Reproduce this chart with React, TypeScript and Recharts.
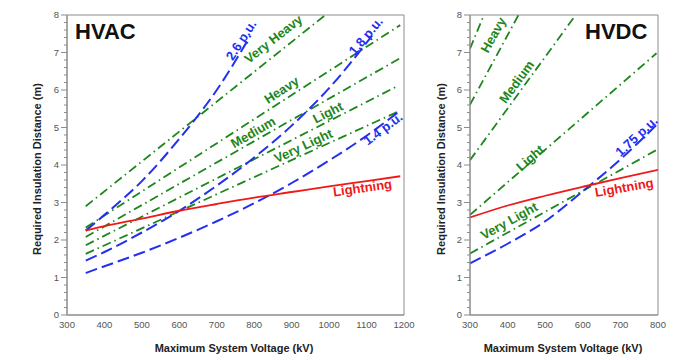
import React from 'react';
import { ComposedChart, Line, Scatter, XAxis, YAxis, ReferenceArea } from 'recharts';

const FONT = '"Liberation Sans", Arial, Helvetica, sans-serif';
const GREEN = '#1d861d';
const BLUE = '#2230f0';
const RED = '#f01818';
const AXIS = '#8c8c8c';
const TICK_TEXT = '#555555';

// ---------- HVAC (kV, metres) ----------
const AC_X_TICKS = [300, 400, 500, 600, 700, 800, 900, 1000, 1100, 1200];
const AC_LIGHTNING = [[350, 2.25], [400, 2.37], [500, 2.57], [600, 2.78], [700, 2.96], [800, 3.13], [900, 3.28], [1000, 3.43], [1100, 3.57], [1190, 3.7]];
const AC_SW_14 = [[350, 1.12], [400, 1.3], [500, 1.66], [600, 2.06], [700, 2.5], [800, 2.98], [900, 3.52], [1000, 4.12], [1100, 4.78], [1190, 5.45]];
const AC_SW_18 = [[350, 1.45], [400, 1.68], [500, 2.2], [600, 2.78], [700, 3.45], [800, 4.2], [900, 5.05], [1000, 6.05], [1115, 7.45]];
const AC_SW_26 = [[350, 2.25], [400, 2.67], [500, 3.57], [600, 4.7], [700, 6.0], [790, 7.45]];
const AC_VERY_HEAVY = [[350, 2.9], [990, 8.0]];
const AC_HEAVY = [[350, 2.33], [1190, 7.73]];
const AC_MEDIUM = [[350, 2.08], [1190, 6.85]];
const AC_LIGHT = [[350, 1.86], [1178, 6.08]];
const AC_VERY_LIGHT = [[350, 1.63], [1190, 5.45]];

const AC_LABELS = [
  { text: '2.6 p.u.', kv: 765, m: 7.33, angle: -57, color: BLUE },
  { text: 'Very Heavy', kv: 851, m: 7.36, angle: -38, color: GREEN },
  { text: 'Heavy', kv: 873, m: 6.0, angle: -33, color: GREEN },
  { text: 'Medium', kv: 797, m: 4.87, angle: -30, color: GREEN },
  { text: 'Light', kv: 997, m: 5.4, angle: -27, color: GREEN },
  { text: 'Very Light', kv: 931, m: 4.51, angle: -25, color: GREEN },
  { text: '1.4 p.u.', kv: 1144, m: 4.97, angle: -37, color: BLUE },
  { text: '1.8 p.u.', kv: 1098, m: 7.44, angle: -50, color: BLUE },
  { text: 'Lightning', kv: 1089, m: 3.39, angle: -8, color: RED },
];

// ---------- HVDC (kV, metres) ----------
const DC_X_TICKS = [300, 400, 500, 600, 700, 800];
const DC_LIGHTNING = [[300, 2.6], [400, 2.92], [500, 3.18], [600, 3.42], [700, 3.65], [800, 3.87]];
const DC_SW_175 = [[300, 1.38], [400, 1.9], [500, 2.5], [600, 3.3], [700, 4.15], [796, 5.07]];
const DC_HEAVY_A = [[300, 7.1], [337, 8.0]];
const DC_HEAVY_B = [[300, 5.61], [429, 8.0]];
const DC_MEDIUM = [[300, 4.13], [581, 8.0]];
const DC_LIGHT = [[300, 2.67], [796, 6.98]];
const DC_VERY_LIGHT = [[300, 1.64], [796, 4.4]];

const DC_LABELS = [
  { text: 'Heavy', kv: 362, m: 7.47, angle: -61, color: GREEN },
  { text: 'Medium', kv: 424, m: 6.22, angle: -54, color: GREEN },
  { text: 'Light', kv: 460, m: 4.19, angle: -41, color: GREEN },
  { text: 'Very Light', kv: 404, m: 2.51, angle: -29, color: GREEN },
  { text: '1.75 p.u.', kv: 743, m: 4.77, angle: -43, color: BLUE },
  { text: 'Lightning', kv: 710, m: 3.4, angle: -10, color: RED },
];

const Y_TICKS = Array.from({ length: 41 }, (_, i) => Math.round(i * 2) / 10);

const pts = (arr: number[][]) => arr.map(([kv, m]) => ({ kv, m }));

const DASH_BLUE = '12 5';
const DASH_GREEN = '9 4 1.5 4';

type Series = { data: number[][]; color: string; dash?: string; width: number };

const AC_SERIES: Series[] = [
  { data: AC_VERY_HEAVY, color: GREEN, dash: DASH_GREEN, width: 1.8 },
  { data: AC_HEAVY, color: GREEN, dash: DASH_GREEN, width: 1.8 },
  { data: AC_MEDIUM, color: GREEN, dash: DASH_GREEN, width: 1.8 },
  { data: AC_LIGHT, color: GREEN, dash: DASH_GREEN, width: 1.8 },
  { data: AC_VERY_LIGHT, color: GREEN, dash: DASH_GREEN, width: 1.8 },
  { data: AC_SW_14, color: BLUE, dash: DASH_BLUE, width: 2 },
  { data: AC_SW_18, color: BLUE, dash: DASH_BLUE, width: 2 },
  { data: AC_SW_26, color: BLUE, dash: DASH_BLUE, width: 2 },
  { data: AC_LIGHTNING, color: RED, width: 1.8 },
];

const DC_SERIES: Series[] = [
  { data: DC_HEAVY_A, color: GREEN, dash: DASH_GREEN, width: 1.8 },
  { data: DC_HEAVY_B, color: GREEN, dash: DASH_GREEN, width: 1.8 },
  { data: DC_MEDIUM, color: GREEN, dash: DASH_GREEN, width: 1.8 },
  { data: DC_LIGHT, color: GREEN, dash: DASH_GREEN, width: 1.8 },
  { data: DC_VERY_LIGHT, color: GREEN, dash: DASH_GREEN, width: 1.8 },
  { data: DC_SW_175, color: BLUE, dash: DASH_BLUE, width: 2 },
  { data: DC_LIGHTNING, color: RED, width: 1.8 },
];

const YTick = (props: any) => {
  const { x, y, payload } = props;
  const v = payload.value;
  const major = Math.abs(v - Math.round(v)) < 1e-6;
  const ax = x + 8;
  return (
    <g>
      <line x1={ax - (major ? 6 : 3)} x2={ax} y1={y} y2={y} stroke={AXIS} strokeWidth={1} />
      {major && (
        <text x={x} y={y} dy="0.35em" textAnchor="end" fontSize={9.5} fill={TICK_TEXT} fontFamily={FONT}>
          {v}
        </text>
      )}
    </g>
  );
};

const LabelShape = (props: any) => {
  const { cx, cy, payload } = props;
  if (cx == null || cy == null) return null;
  return (
    <text
      x={cx}
      y={cy}
      transform={`rotate(${payload.angle} ${cx} ${cy})`}
      textAnchor="middle"
      dominantBaseline="central"
      fontSize={13}
      fontWeight="bold"
      fontFamily={FONT}
      fill={payload.color}
    >
      {payload.text}
    </text>
  );
};

function Panel(props: {
  width: number;
  margin: { top: number; right: number; bottom: number; left: number };
  xDomain: [number, number];
  xTicks: number[];
  series: Series[];
  labels: any[];
}) {
  const { width, margin, xDomain, xTicks, series, labels } = props;
  return (
    <ComposedChart width={width} height={360} margin={margin}>
      <XAxis
        type="number"
        dataKey="kv"
        domain={xDomain}
        ticks={xTicks}
        interval={0}
        allowDataOverflow
        tickLine={false}
        tickSize={4}
        tickMargin={2}
        height={30}
        stroke={AXIS}
        tick={{ fill: TICK_TEXT, fontSize: 9.5, fontFamily: FONT }}
      />
      <YAxis
        type="number"
        dataKey="m"
        domain={[0, 8]}
        ticks={Y_TICKS}
        interval={0}
        allowDataOverflow
        tickLine={false}
        tickSize={6}
        tickMargin={2}
        width={30}
        stroke={AXIS}
        tick={<YTick />}
      />
      <ReferenceArea x1={xDomain[0]} x2={xDomain[1]} y1={0} y2={8} fill="none" stroke={AXIS} strokeWidth={1} />
      {series.map((s, i) => (
        <Line
          key={i}
          data={pts(s.data)}
          dataKey="m"
          type="monotone"
          stroke={s.color}
          strokeWidth={s.width}
          strokeDasharray={s.dash}
          dot={false}
          activeDot={false}
          isAnimationActive={false}
        />
      ))}
      <Scatter data={labels} dataKey="m" shape={<LabelShape />} isAnimationActive={false} />
    </ComposedChart>
  );
}

export default function App() {
  return (
    <div style={{ position: 'absolute', left: 0, top: 0, width: 700, height: 360, background: '#ffffff', fontFamily: FONT }}>
      <div style={{ position: 'absolute', left: 0, top: 0 }}>
        <Panel
          width={420}
          margin={{ top: 15, right: 16, bottom: 15, left: 37 }}
          xDomain={[300, 1200]}
          xTicks={AC_X_TICKS}
          series={AC_SERIES}
          labels={AC_LABELS}
        />
      </div>
      <div style={{ position: 'absolute', left: 420, top: 0 }}>
        <Panel
          width={280}
          margin={{ top: 15, right: 42, bottom: 15, left: 20 }}
          xDomain={[300, 800]}
          xTicks={DC_X_TICKS}
          series={DC_SERIES}
          labels={DC_LABELS}
        />
      </div>
      <svg width={700} height={360} style={{ position: 'absolute', left: 0, top: 0, pointerEvents: 'none' }}>
        <text x={75} y={39} fontSize={22} fontWeight="bold" fontFamily={FONT} fill="#111">HVAC</text>
        <text x={585} y={39} fontSize={22} fontWeight="bold" fontFamily={FONT} fill="#111">HVDC</text>
        <text x={234} y={352} textAnchor="middle" fontSize={11} fontWeight="bold" fontFamily={FONT} fill="#222">
          Maximum System Voltage (kV)
        </text>
        <text x={563} y={352} textAnchor="middle" fontSize={11} fontWeight="bold" fontFamily={FONT} fill="#222">
          Maximum System Voltage (kV)
        </text>
        <text x={41} y={169} transform="rotate(-90 41 169)" textAnchor="middle" fontSize={11} fontWeight="bold" fontFamily={FONT} fill="#222">
          Required Insulation Distance (m)
        </text>
        <text x={445} y={169} transform="rotate(-90 445 169)" textAnchor="middle" fontSize={11} fontWeight="bold" fontFamily={FONT} fill="#222">
          Required Insulation Distance (m)
        </text>
      </svg>
    </div>
  );
}
